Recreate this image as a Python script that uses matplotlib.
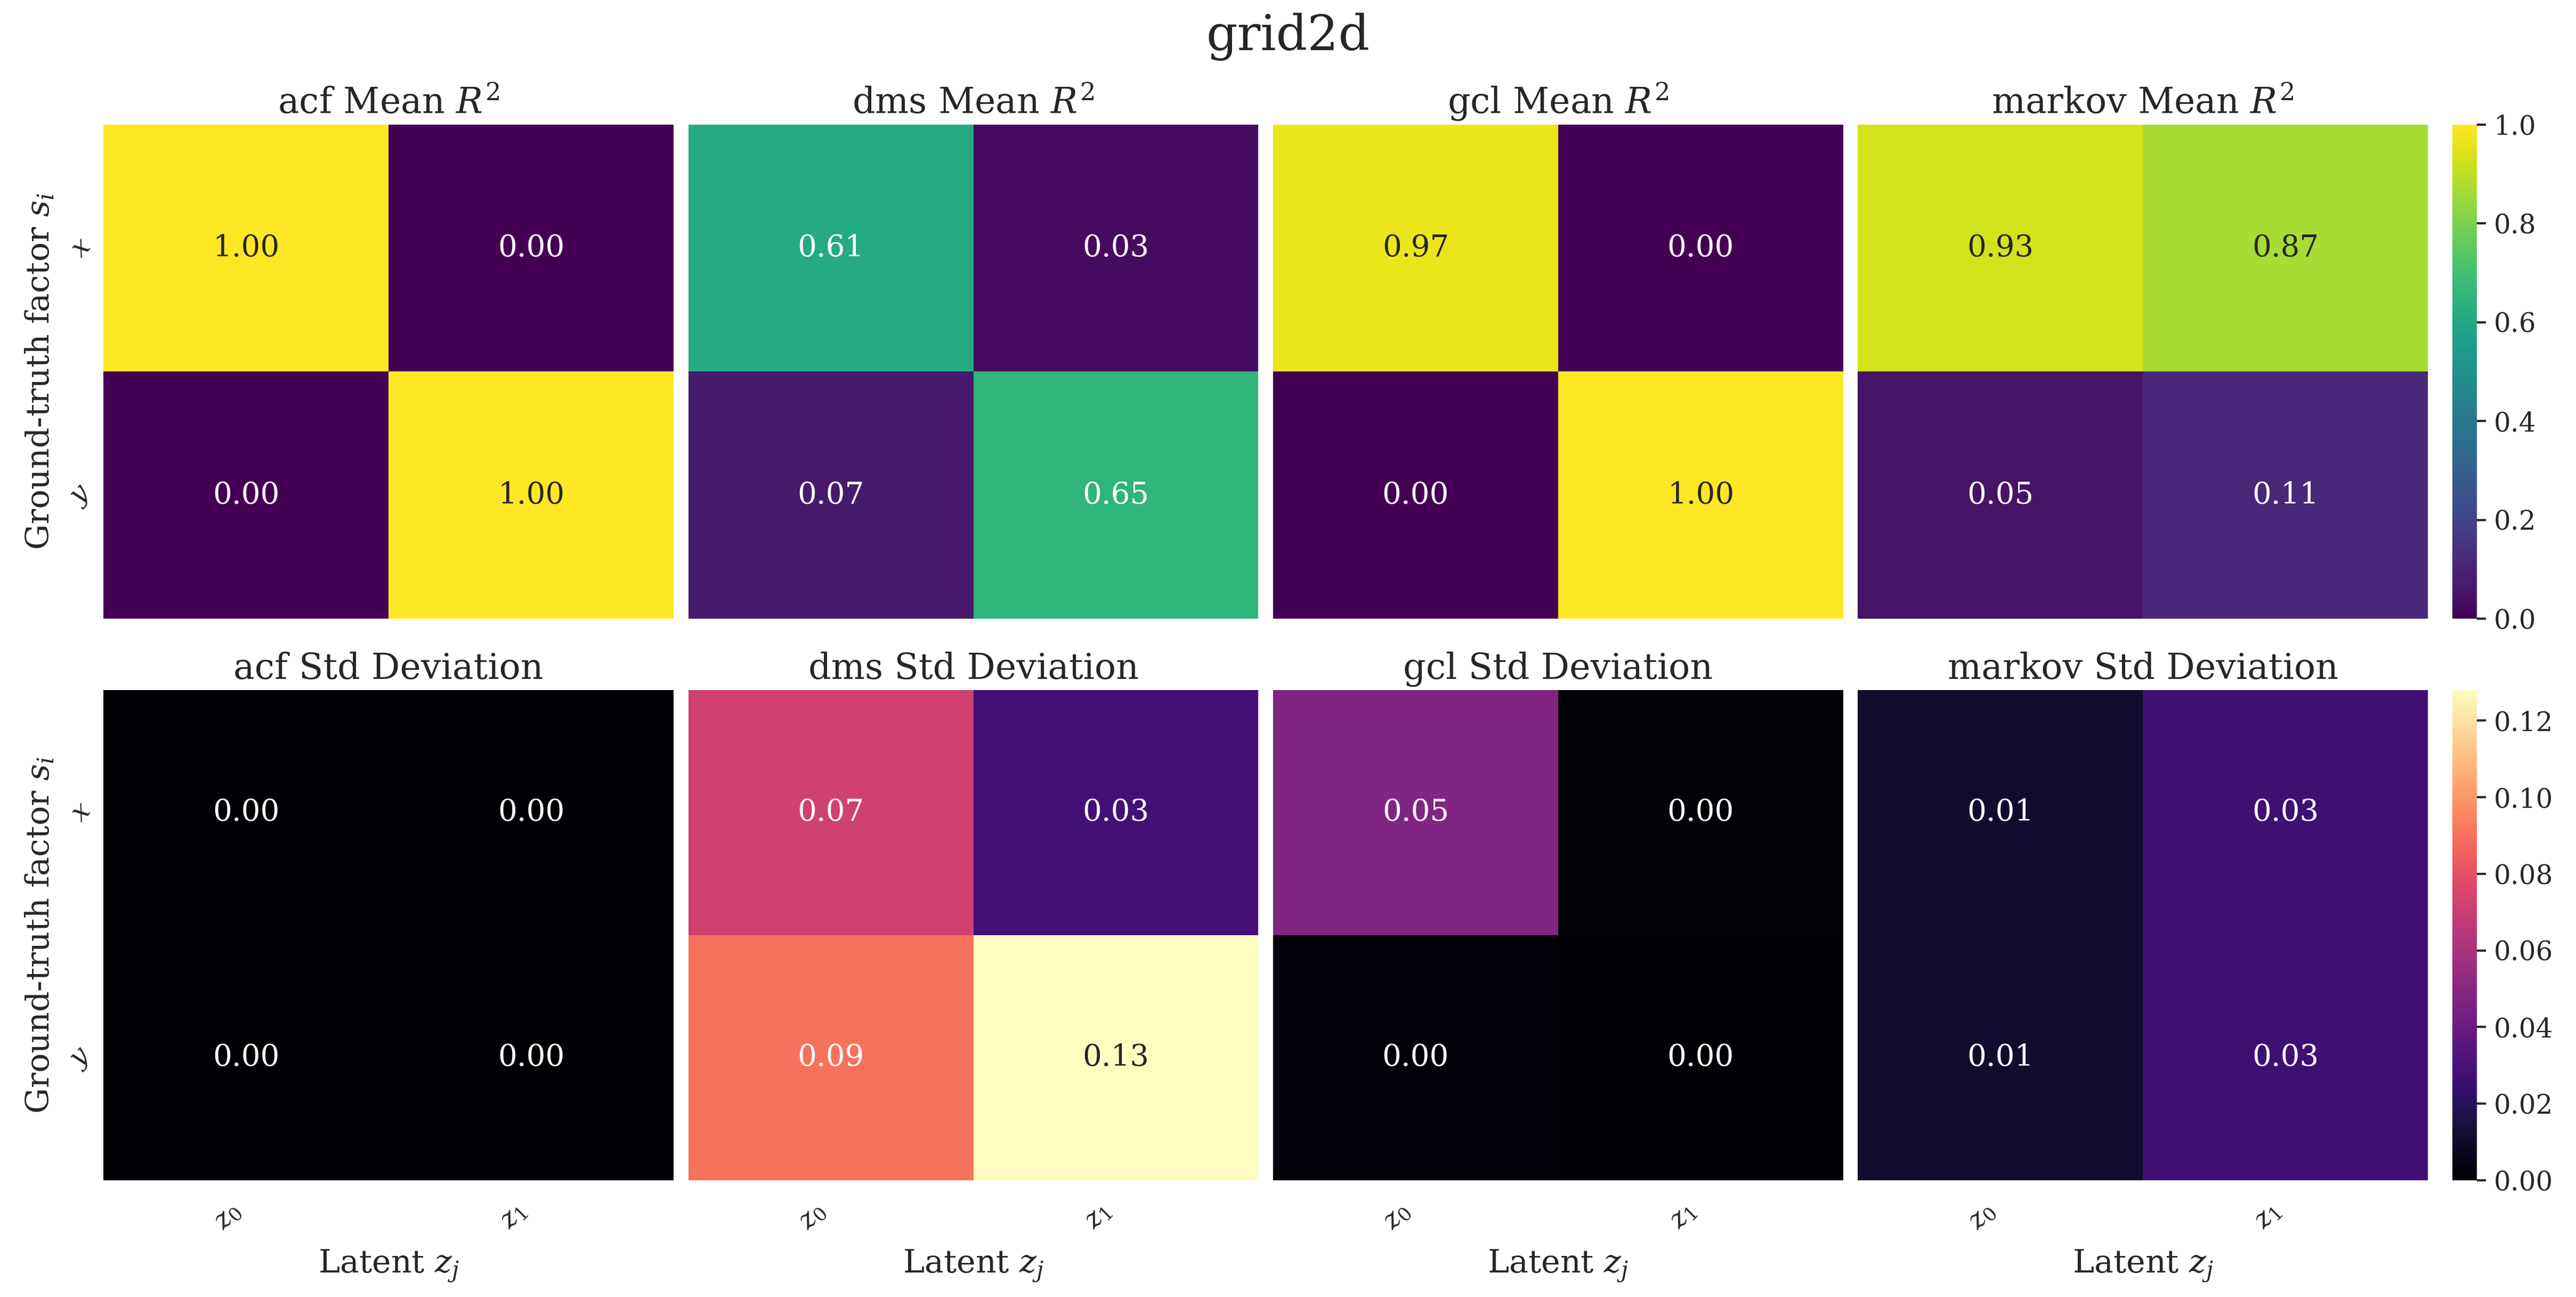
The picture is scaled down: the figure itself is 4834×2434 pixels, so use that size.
import numpy as np
import matplotlib
matplotlib.use("Agg")
import matplotlib.pyplot as plt
import seaborn as sns

sns.set_theme(style="white")
plt.rcParams['font.family'] = ['DejaVu Serif']
plt.rcParams['mathtext.fontset'] = 'dejavuserif'

methods = ["acf", "dms", "gcl", "markov"]
factors = ["$x$", "$y$"]
latents = ["$z_0$", "$z_1$"]

mean_acf = [[1.00, 0.00], [0.00, 1.00]]
mean_dms = [[0.61, 0.03], [0.07, 0.65]]
mean_gcl = [[0.97, 0.00], [0.00, 1.00]]
mean_markov = [[0.93, 0.87], [0.05, 0.11]]

std_acf = [[0.000, 0.000], [0.000, 0.000]]
std_dms = [[0.072, 0.028], [0.090, 0.128]]
std_gcl = [[0.047, 0.001], [0.002, 0.000]]
std_markov = [[0.011, 0.027], [0.011, 0.027]]

means = [mean_acf, mean_dms, mean_gcl, mean_markov]
stds = [std_acf, std_dms, std_gcl, std_markov]

W, H = 4834, 2434
fig = plt.figure(figsize=(W / 300, H / 300), dpi=300)

left0 = 0.0402
width = 0.2213
gap = 0.0057
rows = [(0.523, 0.904 - 0.523), (0.090, 0.468 - 0.090)]
cb_left, cb_w = 0.952, 0.0096

std_max = max(np.max(s) for s in stds)

for r, (datasets, cmap, vmax, kind) in enumerate([
        (means, "viridis", 1.0, "Mean $R^2$"),
        (stds, "magma", std_max, "Std Deviation")]):
    bottom, height = rows[r]
    cax = fig.add_axes([cb_left, bottom, cb_w, height])
    for c, (m, data) in enumerate(zip(methods, datasets)):
        ax = fig.add_axes([left0 + c * (width + gap), bottom, width, height])
        sns.heatmap(np.array(data), ax=ax, cmap=cmap, vmin=0, vmax=vmax,
                    annot=True, fmt=".2f", annot_kws={"fontsize": 13.5},
                    cbar=(c == 3), cbar_ax=cax if c == 3 else None,
                    xticklabels=latents, yticklabels=factors)
        ax.set_title(f"{m} {kind}", fontsize=16, pad=5)
        ax.tick_params(length=0)
        if c == 0:
            ax.set_ylabel("Ground-truth factor $s_i$", fontsize=14.5)
            ax.set_yticklabels(factors, rotation=45, fontsize=12)
        else:
            ax.set_yticklabels([])
            ax.set_ylabel("")
        if r == 1:
            ax.set_xticklabels(latents, rotation=45, ha="right", fontsize=12)
            ax.tick_params(axis="x", pad=8)
            ax.set_xlabel("Latent $z_j$", fontsize=14.5, labelpad=6)
        else:
            ax.set_xticklabels([])
            ax.set_xlabel("")
    cax.tick_params(labelsize=12, length=4, width=1)
    cax.yaxis.set_ticks_position("right")

fig.suptitle("grid2d", fontsize=22, y=0.99)
fig.savefig("out.png", dpi=300)
